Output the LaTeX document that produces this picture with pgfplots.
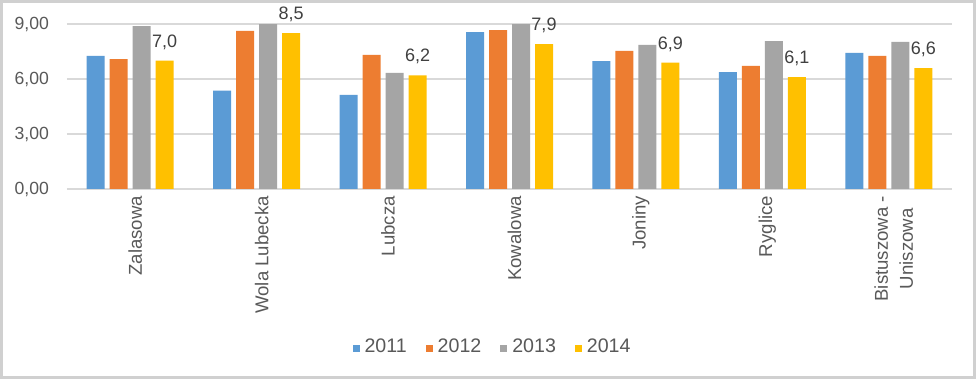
\documentclass[border=0pt]{standalone}
\usepackage{pgfplots}
\pgfplotsset{compat=1.18}
\usepackage{fontspec}
\setmainfont{Liberation Sans}
\definecolor{c11}{HTML}{5B9BD5}
\definecolor{c12}{HTML}{ED7D31}
\definecolor{c13}{HTML}{A5A5A5}
\definecolor{c14}{HTML}{FFC000}
\definecolor{gridc}{HTML}{D9D9D9}
\definecolor{framec}{HTML}{D0D0D0}
\definecolor{tickc}{HTML}{595959}
\definecolor{labc}{HTML}{404040}
\begin{document}
\begin{tikzpicture}
\useasboundingbox (0,0) rectangle (488pt,189.5pt);
\fill[white] (0,0) rectangle (488pt,189.5pt);
\draw[color=framec, line width=1.5pt] (0.75pt,0.75pt) rectangle (487.25pt,188.75pt);
\begin{axis}[
  at={(33.5pt,95pt)}, anchor=south west,
  scale only axis, width=442.5pt, height=82.5pt,
  ybar=2.5pt, bar width=9pt,
  xmin=-0.5, xmax=6.5, ymin=0, ymax=9,
  clip=false,
  ytick={0,3,6,9},
  xtick={0,1,2,3,4,5,6},
  xticklabels={Zalasowa,Wola Lubecka,Lubcza,Kowalowa,Joniny,Ryglice,{Bistuszowa -\\Uniszowa}},
  ymajorgrids, grid style={color=gridc, line width=0.6pt},
  axis line style={draw=none},
  major tick length=0pt,
  /pgf/number format/.cd, fixed, fixed zerofill, precision=2, use comma, assume math mode=true,
  /pgfplots/.cd,
  yticklabel style={font=\fontsize{8.8}{10}\selectfont, text=tickc, xshift=-5.5pt},
  xticklabel style={rotate=90, anchor=east, align=center, font=\fontsize{9.3}{12.5}\selectfont, text=tickc, yshift=-2.5pt},
  legend style={at={(0.4820,-0.9576)}, anchor=center, draw=none, fill=none,
    font=\fontsize{9.8}{11}\selectfont, text=tickc,
    /tikz/every odd column/.append style={column sep=0.5pt},
    /tikz/every even column/.append style={column sep=7.5pt}},
  legend columns=-1,
  legend image code/.code={\fill (0pt,-2.5pt) rectangle (3.5pt,1pt);},
]
\addplot[draw=none, fill=c11] coordinates {(0,7.26) (1,5.36) (2,5.13) (3,8.56) (4,6.98) (5,6.38) (6,7.42)};
\addplot[draw=none, fill=c12] coordinates {(0,7.09) (1,8.62) (2,7.31) (3,8.67) (4,7.53) (5,6.71) (6,7.26)};
\addplot[draw=none, fill=c13] coordinates {(0,8.89) (1,9.0) (2,6.33) (3,9.0) (4,7.86) (5,8.07) (6,8.02)};
\addplot[draw=none, fill=c14,
  nodes near coords={\pgfmathprintnumber[fixed,fixed zerofill,precision=1,use comma]{\pgfplotspointmeta}},
  every node near coord/.append style={font=\fontsize{9}{10}\selectfont, text=labc, yshift=2pt}]
  coordinates {(0,7.0) (1,8.5) (2,6.2) (3,7.9) (4,6.9) (5,6.1) (6,6.6)};
\legend{2011,2012,2013,2014}
\end{axis}
\end{tikzpicture}
\end{document}
